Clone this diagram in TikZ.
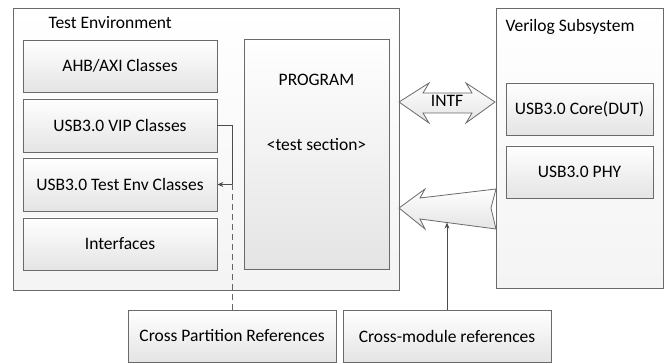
\documentclass[tikz,border=0pt]{standalone}
\usepackage{fontspec}
\setmainfont{Carlito}
\usetikzlibrary{arrows.meta}
\definecolor{edge}{HTML}{6A6A6A}
\definecolor{outerfill}{HTML}{F4F4F4}
\definecolor{boxbot}{HTML}{E4E4E4}
\tikzset{
  every node/.style={font=\fontsize{17.5}{20}\selectfont, text=black},
  outerbox/.style={draw=edge, line width=0.8pt, top color=white, bottom color=outerfill, rectangle, inner sep=0pt},
  innerbox/.style={draw=edge, line width=0.8pt, top color=white, bottom color=boxbot, rectangle, inner sep=0pt},
  bigarrow/.style={draw=edge, line width=0.8pt, top color=white, bottom color=boxbot},
  conn/.style={draw=black!70, line width=0.8pt, -{Stealth[length=6pt,width=5pt]}},
  dashconn/.style={draw=black!60, line width=0.8pt, dashed, dash pattern=on 6pt off 4pt},
}
\begin{document}
\begin{tikzpicture}[x=1pt,y=-1pt]
\useasboundingbox (0,0) rectangle (667,363);
% outer containers
\node[outerbox, minimum width=386, minimum height=282] (testenv) at (206,149) {};
\node[anchor=west] (testenvlbl) at (45,23) {Test Environment};
\node[outerbox, minimum width=167, minimum height=280] (verilog) at (579.5,148) {};
\node[anchor=west] (veriloglbl) at (502,27) {Verilog Subsystem};
% inner boxes
\node[innerbox, minimum width=194, minimum height=52] (ahb) at (120,66) {AHB/AXI Classes};
\node[innerbox, minimum width=194, minimum height=53] (vip) at (120,125.5) {USB3.0 VIP Classes};
\node[innerbox, minimum width=194, minimum height=53] (tenv) at (120,184.5) {USB3.0 Test Env Classes};
\node[innerbox, minimum width=194, minimum height=52] (ifc) at (120,244) {Interfaces};
\node[innerbox, minimum width=145, minimum height=230] (prog) at (316.5,154) {};
\node (proglbl) at (316.5,80) {PROGRAM};
\node (testsec) at (316.5,145) {<test section>};
\node[innerbox, minimum width=147, minimum height=52] (core) at (579.5,109) {USB3.0 Core(DUT)};
\node[innerbox, minimum width=147, minimum height=52] (phy) at (579.5,172) {USB3.0 PHY};
% bottom boxes
\node[innerbox, minimum width=208, minimum height=52] (crossp) at (232,336) {Cross Partition References};
\node[innerbox, minimum width=208, minimum height=52] (crossm) at (447,336) {Cross-module references};
% INTF double arrow
\path[bigarrow] (399,102) -- (429,83) -- (423,93) -- (472,93) -- (466,83) -- (495,102)
  -- (466,123) -- (472,113) -- (423,113) -- (429,123) -- cycle;
\node (intf) at (447,101) {INTF};
% big tapered arrow
\path[bigarrow] (399,208) -- (425,189) -- (420,198) -- (496,189) -- (491,208) -- (496,229)
  -- (420,219) -- (425,229) -- cycle;
% connectors
\coordinate (bend) at (232,184.5);
\coordinate (bigarrowbot) at (447,222.6);
\draw[conn] (vip.east) -| (bend) -- (tenv.east);
\draw[dashconn] (bend) -- (crossp.north);
\draw[conn] (crossm.north) -- (bigarrowbot);
\end{tikzpicture}
\end{document}
